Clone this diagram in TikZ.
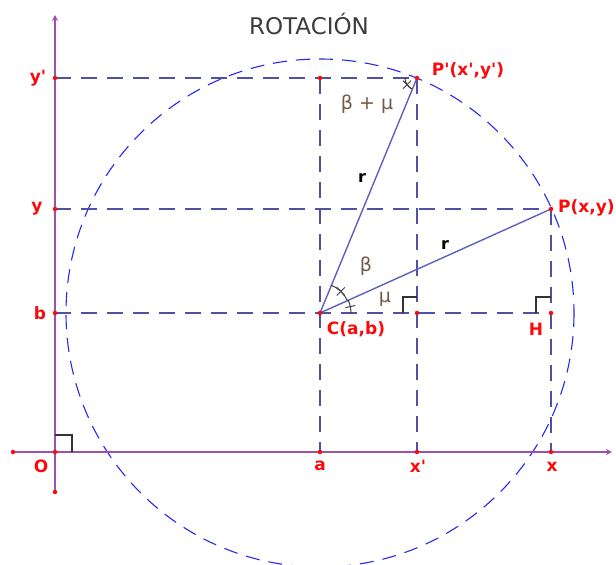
\documentclass[tikz,border=0pt]{standalone}
\usepackage{fontspec}
\setmainfont{DejaVu Sans}
\usetikzlibrary{arrows.meta}
\definecolor{axiscol}{RGB}{160,80,170}
\definecolor{labred}{RGB}{250,10,10}
\definecolor{dashcol}{RGB}{80,80,165}
\definecolor{segcol}{RGB}{95,95,190}
\definecolor{circcol}{RGB}{40,40,240}
\definecolor{greekcol}{RGB}{115,90,70}
\definecolor{titlecol}{RGB}{60,60,60}
\newcommand{\qs}{\textquotesingle}
\tikzset{
  axisline/.style={draw=axiscol, line width=1.6pt},
  guide/.style={draw=dashcol, line width=1.4pt, dash pattern=on 16pt off 10pt},
  seg/.style={draw=segcol, line width=1.4pt},
  circline/.style={draw=circcol, line width=1.1pt, dash pattern=on 14pt off 9pt},
  dot/.style={circle, fill=labred, inner sep=0pt, minimum size=4.5pt},
  lab/.style={text=labred, font=\bfseries\fontsize{17}{19}\selectfont, inner sep=0pt},
  greek/.style={text=greekcol, font=\fontsize{19}{21}\selectfont, inner sep=0pt},
  rlab/.style={text=black, font=\bfseries\fontsize{16}{18}\selectfont, inner sep=0pt},
  rightmark/.style={draw=black!80, line width=1.3pt},
  anglemark/.style={draw=black!75, line width=1pt}
}
\begin{document}
\begin{tikzpicture}[x=1pt,y=-1pt]
\useasboundingbox (0,0) rectangle (616,565);
% key points
\coordinate (O) at (55,452);
\coordinate (Ytop) at (55,15);
\coordinate (Ybot) at (55,492);
\coordinate (Xl) at (13,452);
\coordinate (Xr) at (612,452);
\coordinate (Yp) at (55,78);
\coordinate (Yy) at (55,209);
\coordinate (Yb) at (55,313);
\coordinate (A) at (320,452);
\coordinate (Xp) at (417,452);
\coordinate (X) at (551,452);
\coordinate (AYp) at (320,78);
\coordinate (Pp) at (417,78);
\coordinate (P) at (551,209);
\coordinate (C) at (320,313);
\coordinate (K) at (417,313);
\coordinate (H) at (551,313);

% circle
\draw[circline] (C) circle[radius=254];

% guides
\draw[guide] (Yp) -- (Pp);
\draw[guide] (Yy) -- (P);
\draw[guide] (Yb) -- (H);
\draw[guide] (AYp) -- (A);
\draw[guide] (Pp) -- (Xp);
\draw[guide] (P) -- (X);

% axes
\draw[axisline, -{Stealth[length=6pt,width=6pt]}] (Ybot) -- (Ytop);
\draw[axisline, -{Stealth[length=6pt,width=6pt]}] (Xl) -- (Xr);

% radii
\draw[seg] (C) -- (Pp);
\draw[seg] (C) -- (P);

% right angle marks
\draw[rightmark] (403,313) -- (403,297) -- (417,297);
\draw[rightmark] (536,313) -- (536,297) -- (551,297);
\draw[rightmark] (55,435) -- (72,435) -- (72,452);

% angle marks at C
\draw[anglemark] (C) ++(-24.2:30) arc[start angle=-24.2, end angle=-67.6, radius=30];
\draw[anglemark] (C) ++(0:31) arc[start angle=0, end angle=-24.2, radius=31];
\draw[anglemark] (C) ++(-12:26) -- ++(-12:10);
\draw[anglemark] (C) ++(-46:30) ++(-4,-4) -- ++(8,8);
\draw[anglemark] (C) ++(-46:30) ++(-4,4) -- ++(8,-8);
% angle mark at P'
\draw[anglemark] (Pp) ++(112.4:12) arc[start angle=112.4, end angle=180, radius=12];
\draw[anglemark] (Pp) ++(146:12) ++(-4,-4) -- ++(8,8);
\draw[anglemark] (Pp) ++(146:12) ++(-4,4) -- ++(8,-8);

% dots
\foreach \p in {Yp,Yy,Yb,O,Xl,Ybot,A,Xp,X,AYp,Pp,P,C,K,H}
  \node[dot] at (\p) {};

% labels
\node[lab] (lyp) at (38,78) {y\qs};
\node[lab] (ly) at (37,209) {y};
\node[lab] (lb) at (40,313) {b};
\node[lab] (lo) at (41,466) {O};
\node[lab] (la) at (320,466) {a};
\node[lab] (lxp) at (418,466) {x\qs};
\node[lab] (lx) at (552,467) {x};
\node[lab] (lpp) at (468,71) {P\qs(x\qs,y\qs)};
\node[lab, anchor=west] (lp) at (558,208) {P(x,y)};
\node[lab] (lc) at (356,329) {C(a,b)};
\node[lab] (lh) at (536,329) {H};

\node[greek] (gbm) at (367,104) {β + μ};
\node[greek] (gb) at (366,266) {β};
\node[greek] (gm) at (385,299) {μ};
\node[rlab] (r1) at (362,178) {r};
\node[rlab] (r2) at (445,245) {r};

\node[text=titlecol, font=\fontsize{23}{25}\selectfont, inner sep=0pt] (title) at (309,24) {ROTACIÓN};
\end{tikzpicture}
\end{document}
